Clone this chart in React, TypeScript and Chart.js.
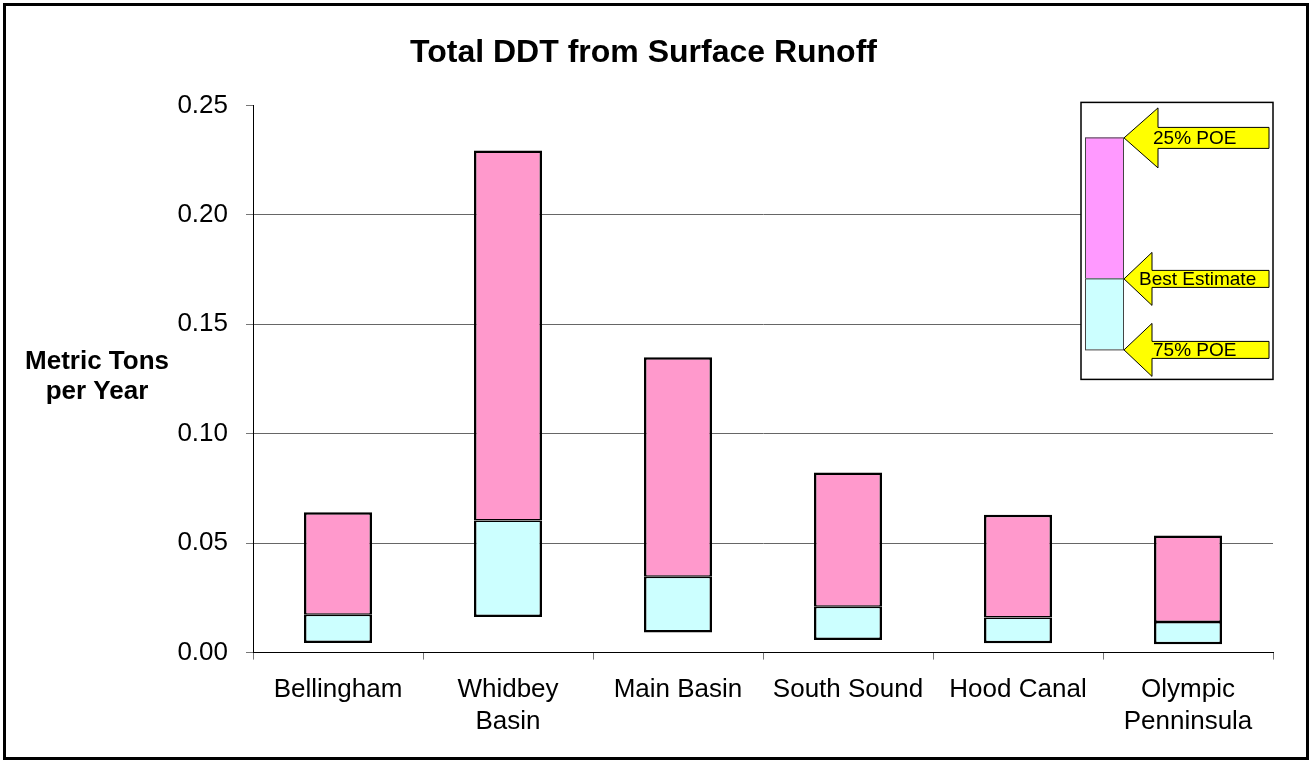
import React, { useEffect, useRef } from "react";
import { Chart, registerables } from "chart.js";

Chart.register(...registerables);

const categories: (string | string[])[] = [
  "Bellingham",
  ["Whidbey", "Basin"],
  "Main Basin",
  "South Sound",
  "Hood Canal",
  ["Olympic", "Penninsula"],
];
const poe75 = [0.0044, 0.0163, 0.0092, 0.0058, 0.0043, 0.0038];
const bestEstimate = [0.0173, 0.0603, 0.0347, 0.0209, 0.016, 0.014];
const poe25 = [0.0641, 0.2294, 0.1349, 0.0823, 0.063, 0.0535];
const yMin = 0;
const yMax = 0.25;
const yStep = 0.05;
const chartTitle = "Total DDT from Surface Runoff";
const yTitleLines = ["Metric Tons", "per Year"];
const legendLabels = ["25% POE", "Best Estimate", "75% POE"];

const FONT = "'Liberation Sans', Arial, sans-serif";

const outerBorder = {
  id: "outerBorder",
  afterDraw(chart: any) {
    const ctx = chart.ctx;
    ctx.save();
    ctx.strokeStyle = "#000";
    ctx.lineWidth = 3;
    ctx.strokeRect(4.5, 4.5, chart.width - 11, chart.height - 8);
    ctx.restore();
  },
};

const yTitle = {
  id: "yTitle",
  afterDraw(chart: any) {
    const ctx = chart.ctx;
    const ca = chart.chartArea;
    const mid = (ca.top + ca.bottom) / 2;
    ctx.save();
    ctx.fillStyle = "#000";
    ctx.font = `bold 26px ${FONT}`;
    ctx.textAlign = "center";
    ctx.textBaseline = "alphabetic";
    ctx.fillText(yTitleLines[0], ca.left - 156, mid - 10);
    ctx.fillText(yTitleLines[1], ca.left - 156, mid + 20);
    ctx.restore();
  },
};

function arrow(ctx: any, tipX: number, cy: number, baseX: number, headHalf: number, shaftHalf: number, endX: number) {
  ctx.beginPath();
  ctx.moveTo(tipX, cy);
  ctx.lineTo(baseX, cy - headHalf);
  ctx.lineTo(baseX, cy - shaftHalf);
  ctx.lineTo(endX, cy - shaftHalf);
  ctx.lineTo(endX, cy + shaftHalf);
  ctx.lineTo(baseX, cy + shaftHalf);
  ctx.lineTo(baseX, cy + headHalf);
  ctx.closePath();
  ctx.fillStyle = "#FFFF00";
  ctx.fill();
  ctx.strokeStyle = "#000";
  ctx.lineWidth = 1;
  ctx.stroke();
}

const legendInset = {
  id: "legendInset",
  afterDraw(chart: any) {
    const ctx = chart.ctx;
    const ca = chart.chartArea;
    const R = ca.right;
    const T = ca.top;
    ctx.save();
    ctx.fillStyle = "#fff";
    ctx.fillRect(R - 192, T - 3, 192, 277);
    ctx.strokeStyle = "#000";
    ctx.lineWidth = 1.5;
    ctx.strokeRect(R - 192, T - 3, 192, 277);
    ctx.lineWidth = 1;
    ctx.strokeStyle = "#444";
    ctx.fillStyle = "#FF99FF";
    ctx.fillRect(R - 188, T + 32, 38, 141);
    ctx.strokeRect(R - 188 + 0.5, T + 32 + 0.5, 38, 141);
    ctx.fillStyle = "#CCFFFF";
    ctx.fillRect(R - 188, T + 173, 38, 71);
    ctx.strokeRect(R - 188 + 0.5, T + 173 + 0.5, 38, 71);
    arrow(ctx, R - 149, T + 32.5, R - 115, 30, 10.5, R - 4);
    arrow(ctx, R - 149, T + 173.5, R - 121, 26.5, 8.5, R - 4);
    arrow(ctx, R - 149, T + 244.5, R - 121, 26.5, 8.5, R - 4);
    ctx.fillStyle = "#000";
    ctx.font = `19px ${FONT}`;
    ctx.textAlign = "left";
    ctx.textBaseline = "middle";
    ctx.fillText(legendLabels[0], R - 120, T + 33.5);
    ctx.fillText(legendLabels[1], R - 134, T + 174.5);
    ctx.fillText(legendLabels[2], R - 120, T + 245.5);
    ctx.restore();
  },
};

export default function App() {
  const canvasRef = useRef<HTMLCanvasElement | null>(null);

  useEffect(() => {
    if (!canvasRef.current) return;
    const chart = new Chart(canvasRef.current, {
      type: "bar",
      data: {
        labels: categories as any,
        datasets: [
          {
            label: "75% POE to Best Estimate",
            data: poe75.map((v, i) => [v, bestEstimate[i]]) as any,
            backgroundColor: "#CCFFFF",
            borderColor: "#000",
            borderWidth: { left: 2.5, right: 2.5, bottom: 2.5, top: 1.5 } as any,
            borderSkipped: false,
            barPercentage: 0.4,
            categoryPercentage: 1,
          },
          {
            label: "Best Estimate to 25% POE",
            data: bestEstimate.map((v, i) => [v, poe25[i]]) as any,
            backgroundColor: "#FF99CC",
            borderColor: "#000",
            borderWidth: { left: 2.5, right: 2.5, top: 2.5, bottom: 1.5 } as any,
            borderSkipped: false,
            barPercentage: 0.4,
            categoryPercentage: 1,
          },
        ],
      },
      options: {
        responsive: false,
        animation: false,
        layout: { padding: { left: 14, right: 41, top: 0, bottom: 10 } },
        plugins: {
          legend: { display: false },
          tooltip: { enabled: false },
          title: {
            display: true,
            text: chartTitle,
            color: "#000",
            font: { family: FONT, size: 32, weight: "bold", lineHeight: 1.2 },
            padding: { top: 34, bottom: 33 },
          },
        },
        scales: {
          x: {
            stacked: true,
            offset: true,
            grid: {
              offset: true,
              drawOnChartArea: false,
              drawTicks: true,
              tickLength: 7,
              tickColor: "#777",
            },
            border: { display: true, color: "#000", width: 1 },
            ticks: {
              color: "#000",
              font: { family: FONT, size: 26, lineHeight: 1.2 },
              padding: 15,
              maxRotation: 0,
              autoSkip: false,
            },
          },
          y: {
            stacked: false,
            min: yMin,
            max: yMax,
            afterFit(scale: any) {
              scale.width = 239;
            },
            grid: {
              color: (c: any) =>
                c.tick && Math.abs(c.tick.value - yMax) < 1e-9
                  ? "rgba(0,0,0,0)"
                  : c.tick && Math.abs(c.tick.value) < 1e-9
                  ? "#000"
                  : "#666",
              tickColor: "#777",
              tickLength: 7,
              drawTicks: true,
            },
            border: { display: true, color: "#000", width: 1 },
            ticks: {
              stepSize: yStep,
              color: "#000",
              padding: 18,
              font: { family: FONT, size: 26 },
              callback: (v: any) => Number(v).toFixed(2),
            },
          },
        },
      },
      plugins: [outerBorder, yTitle, legendInset],
    });
    return () => chart.destroy();
  }, []);

  return (
    <div style={{ position: "absolute", left: 0, top: 0, width: 1314, height: 762, background: "#fff" }}>
      <canvas ref={canvasRef} width={1314} height={762} style={{ display: "block" }} />
    </div>
  );
}
